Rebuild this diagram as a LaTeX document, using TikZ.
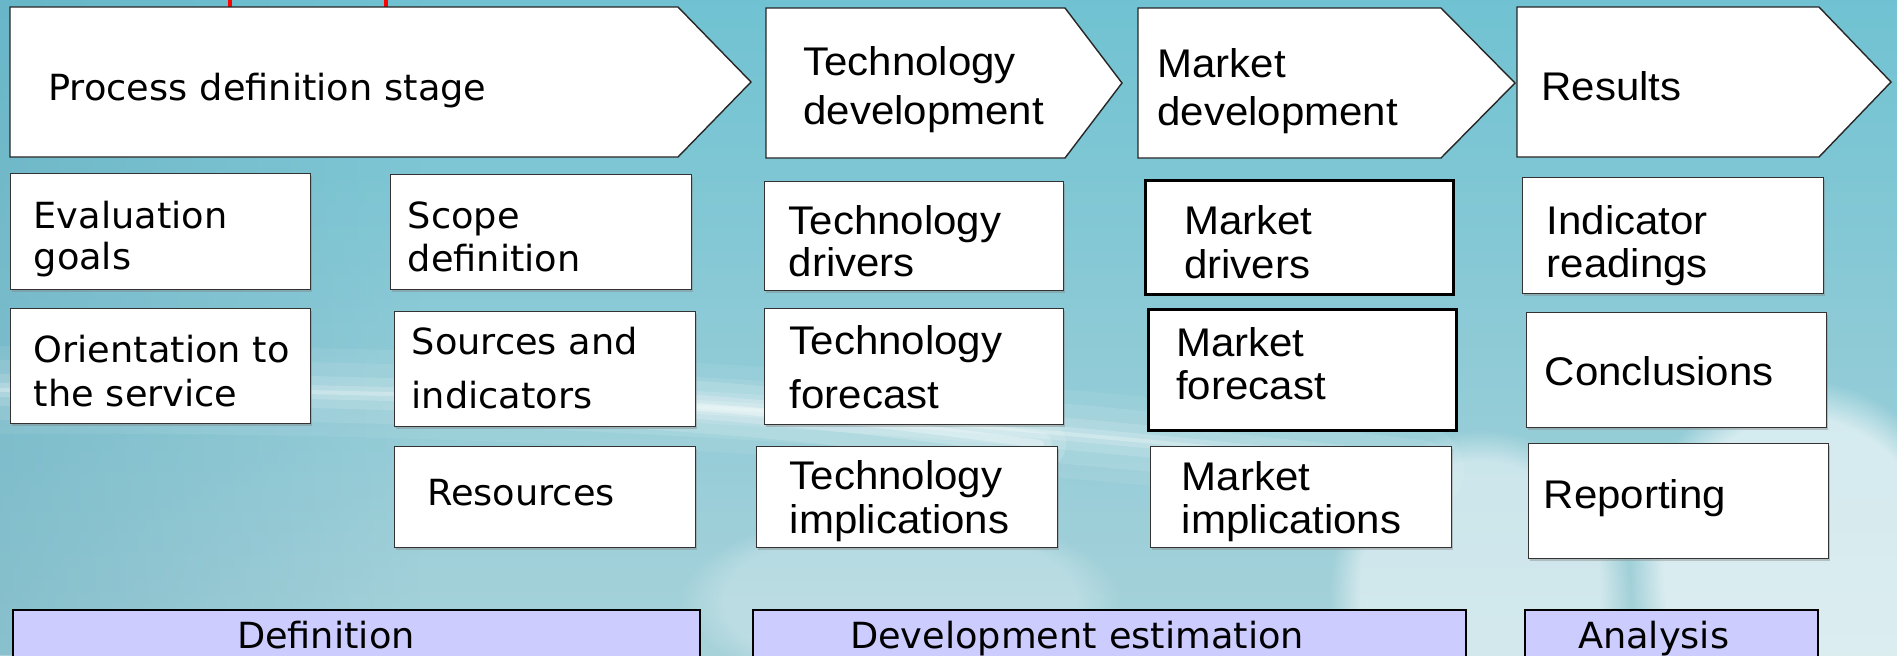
\documentclass[tikz,border=0pt]{standalone}
\usepackage{fontspec}
\newfontfamily\verdf[FakeStretch=1.02]{DejaVu Sans}
\newfontfamily\arialf[FakeStretch=1.05]{Liberation Sans}
\usetikzlibrary{shadows,fadings}

\definecolor{bgtop}{RGB}{112,194,210}
\definecolor{bgmid}{RGB}{128,216,232}
\definecolor{bglow}{RGB}{168,210,218}
\definecolor{bgedge}{RGB}{92,166,186}
\definecolor{phasefill}{RGB}{204,204,255}

\begin{document}
\begin{tikzpicture}[x=0.5pt, y=-0.5pt,
    verd/.style={font=\verdf\fontsize{18pt}{20.5pt}\selectfont},
    ari/.style={font=\arialf\fontsize{20pt}{21pt}\selectfont},
    chevron/.style={draw=black!85, fill=white, line width=0.7pt},
    lbl/.style={anchor=north west, inner sep=0pt, align=left, text width=250pt, text height=15pt},
    card/.style={draw=black!80, fill=white, line width=0.7pt, anchor=north west,
        align=left, inner ysep=0pt,
        drop shadow={shadow xshift=0.5pt, shadow yshift=-0.9pt, opacity=0.4}},
    boldcard/.style={card, draw=black, line width=1.3pt},
    phase/.style={card, fill=phasefill, draw=black, line width=1pt},
    cell/.style n args={4}{inner xsep=#1pt, text width=#2pt, text height=#3pt, text depth=#4pt}]

\useasboundingbox (0,0) rectangle (1897,655);

% backdrop
\shade[top color=bgtop, middle color=bgmid, bottom color=bglow] (0,0) rectangle (1897,655);
\fill[bgedge, opacity=0.4, path fading=east] (0,0) rectangle (420,655);
\foreach \w/\o in {44/0.07, 30/0.09, 16/0.13, 7/0.18, 2/0.25}
    \draw[white, opacity=\o, line width=\w pt, line cap=round]
        (-20,390) .. controls (500,386) and (950,416) .. (1420,470);
\foreach \w/\o in {26/0.14, 12/0.2, 4/0.3}
    \draw[white, opacity=\o, line width=\w pt, line cap=round]
        (580,400) .. controls (720,406) and (860,420) .. (1040,444);
\fill[white, opacity=0.25, path fading=circle with fuzzy edge 20 percent] (900,600) ellipse (220 and 90);
\fill[white, opacity=0.5, path fading=circle with fuzzy edge 20 percent] (1480,590) ellipse (150 and 160);
\fill[white, opacity=0.6, path fading=circle with fuzzy edge 20 percent] (1800,570) ellipse (170 and 190);

\draw[red, line width=1.6pt] (230,0) -- (230,7);
\draw[red, line width=1.6pt] (386,0) -- (386,7);

% stages
\draw[chevron] (10,7) -- (678,7) -- (751,82) -- (678,157) -- (10,157) -- cycle;
\node[lbl, verd] (procdef) at (48,70) {Process definition stage};
\draw[chevron] (766,8) -- (1065,8) -- (1122,83) -- (1065,158) -- (766,158) -- cycle;
\node[lbl, ari] (techdev) at (803,45) {Technology\\[3.5pt]development};
\draw[chevron] (1138,8) -- (1441,8) -- (1515,83) -- (1441,158) -- (1138,158) -- cycle;
\node[lbl, ari] (mktdev) at (1157,47) {Market\\[3pt]development};
\draw[chevron] (1517,7) -- (1819,7) -- (1891,82) -- (1819,157) -- (1517,157) -- cycle;
\node[lbl, ari] (results) at (1541,70) {Results};

% definition column
\node[card, verd, cell={11.5}{127}{27.5}{30.5}] (evalgoals) at (10,173) {Evaluation\\goals};
\node[card, verd, cell={8.5}{133.5}{27}{30.5}] (scopedef) at (390,174) {Scope\\[1pt]definition};
\node[card, verd, cell={11.5}{127}{27}{30.5}] (orient) at (10,308) {Orientation~to\\[1.5pt]the service};
\node[card, verd, cell={8.5}{133.5}{21.5}{36}] (sources) at (394,311) {Sources and\\[6.5pt]indicators};
\node[card, verd, cell={16.25}{118}{29.5}{21}] (resources) at (394,446) {Resources};

% technology column
\node[card, ari, cell={12}{125.5}{26.5}{28}] (techdrv) at (764,181) {Technology\\drivers};
\node[card, ari, cell={12.5}{124.5}{23}{35}] (techfc) at (764,308) {Technology\\[6pt]forecast};
\node[card, ari, cell={16.5}{117.5}{21.5}{29}] (techimp) at (756,446) {Technology\\[1pt]implications};

% market column
\node[boldcard, ari, cell={19.5}{115}{27}{30}] (mktdrv) at (1144,179) {Market\\[1pt]drivers};
\node[boldcard, ari, cell={14}{126}{23.5}{37}] (mktfc) at (1147,308) {Market\\[0.5pt]forecast};
\node[card, ari, cell={15.5}{119.5}{22}{28.5}] (mktimp) at (1150,446) {Market\\[0.5pt]implications};

% results column
\node[card, ari, cell={12}{126.5}{28.5}{29.5}] (indread) at (1522,177) {Indicator\\[0.5pt]readings};
\node[card, ari, cell={9}{132}{36.5}{21}] (concl) at (1526,312) {Conclusions};
\node[card, ari, cell={7.5}{135}{32.5}{25}] (report) at (1528,443) {Reporting};

% phases
\node[phase, verd, cell={112}{119.5}{19}{9}] (defphase) at (12,609) {Definition};
\node[phase, verd, cell={48.5}{259.5}{19}{9}] (devphase) at (752,609) {Development estimation};
\node[phase, verd, cell={26.5}{93.5}{19}{9}] (anaphase) at (1524,609) {Analysis};
\end{tikzpicture}
\end{document}
